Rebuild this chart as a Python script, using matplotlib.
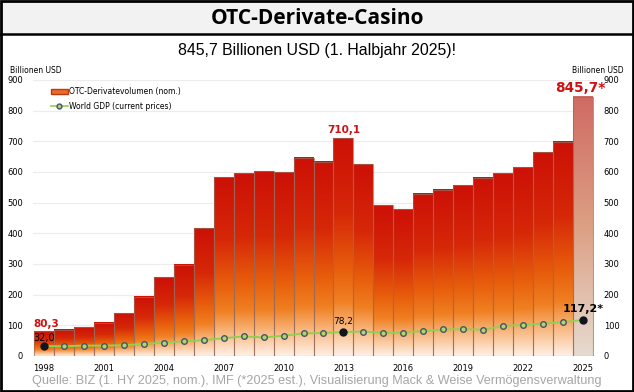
import numpy as np
import matplotlib
matplotlib.use("Agg")
from matplotlib import pyplot as plt
from matplotlib.colors import LinearSegmentedColormap
from matplotlib.patches import Rectangle
from matplotlib.lines import Line2D

# Daten
years = list(range(1998, 2026))
otc_volume = [80.3, 85, 94, 108, 139, 193, 257, 298, 416, 583,
              596, 602, 599, 646, 634, 710.1, 625, 491, 479, 529,
              542, 556, 581, 596, 615, 664, 698, 845.7]
world_gdp = [32.0, 31.5, 33.8, 33.6, 34.9, 38.9, 43.8, 47.5, 51.5, 58.0,
             63.6, 60.3, 66.0, 73.5, 75.1, 78.2, 79.6, 75.2, 76.4, 81.3,
             86.4, 87.7, 85.2, 97.5, 101.2, 105.7, 110.1, 117.2]
tick_years = [1998, 2001, 2004, 2007, 2010, 2013, 2016, 2019, 2022, 2025]
y_ticks = [0, 100, 200, 300, 400, 500, 600, 700, 800, 900]

title = "OTC-Derivate-Casino"
subtitle = "845,7 Billionen USD (1. Halbjahr 2025)!"
source = "Quelle: BIZ (1. HY 2025, nom.), IMF (*2025 est.), Visualisierung Mack & Weise Vermögensverwaltung"

cmap_bar = LinearSegmentedColormap.from_list(
    "otc", [(0.0, "#cc1006"), (0.35, "#d62808"), (0.6, "#e85e0c"),
            (0.75, "#f08022"), (0.87, "#f8b880"), (1.0, "#fff0e6")])
cmap_last = LinearSegmentedColormap.from_list(
    "otc_est", [(0.0, "#d06a64"), (0.5, "#dca084"), (1.0, "#e6dbd0")])

fig = plt.figure(figsize=(6.34, 3.92), dpi=100)

# Rahmen + Titelbalken
fig.patches.append(Rectangle((0, 0.913), 1, 0.087, transform=fig.transFigure,
                             facecolor="#f2f2f2", edgecolor="none", zorder=0))
fig.add_artist(Line2D([0, 1], [0.913, 0.913], color="black", lw=1.8))
fig.patches.append(Rectangle((0.002, 0.003), 0.996, 0.994, transform=fig.transFigure,
                             fill=False, edgecolor="black", lw=2.0, zorder=5))

fig.text(0.5, 0.954, title, ha="center", va="center", fontsize=15,
         fontweight="bold", family="Open Sans")
fig.text(0.5, 0.872, subtitle, ha="center", va="center", fontsize=11.4,
         family=["Liberation Sans Narrow", "Liberation Sans"])
fig.text(0.5, 0.027, source, ha="center", va="center", fontsize=9.1,
         color="#a6a6a6", family=["Liberation Sans Narrow", "Liberation Sans"])
fig.text(0.016, 0.819, "Billionen USD", fontsize=5.5, va="center", ha="left")
fig.text(0.984, 0.821, "Billionen USD", fontsize=5.5, va="center", ha="right")

ax = fig.add_axes([0.052, 0.092, 0.885, 0.704])

x = np.arange(len(years))
grad = np.linspace(0, 1, 256).reshape(-1, 1)
for i, h in enumerate(otc_volume):
    cm = cmap_last if i == len(years) - 1 else cmap_bar
    ax.imshow(grad, cmap=cm, extent=[x[i] - 0.5, x[i] + 0.5, 0, h],
              aspect="auto", zorder=2, interpolation="bicubic")
ax.bar(x, otc_volume, width=1.0, fill=False, edgecolor="#9a6a58",
       linewidth=0.8, alpha=0.7, zorder=3)

i13 = years.index(2013)
last = len(years) - 1

# World GDP
ax.plot(x, world_gdp, color="#92d050", lw=1.4, marker="o", markersize=4,
        markerfacecolor="#b5d36b", markeredgecolor="#44546a",
        markeredgewidth=1.0, zorder=4)
for i in [0, i13, last]:
    ax.plot(x[i], world_gdp[i], "o", color="#10151e", markersize=5, zorder=5)

# Beschriftungen
ax.annotate("80,3", (x[0], otc_volume[0]), xytext=(2, 2), textcoords="offset points",
            ha="center", va="bottom", color="#d01010", fontweight="bold", fontsize=7.5)
ax.annotate("32,0", (x[0], world_gdp[0]), xytext=(0, 2), textcoords="offset points",
            ha="center", va="bottom", color="black", fontsize=7)
ax.annotate("710,1", (x[i13], otc_volume[i13]), xytext=(0, 2), textcoords="offset points",
            ha="center", va="bottom", color="#d01010", fontweight="bold", fontsize=7.5)
ax.annotate("78,2", (x[i13], world_gdp[i13]), xytext=(0, 4), textcoords="offset points",
            ha="center", va="bottom", color="black", fontsize=6.5)
ax.annotate("845,7*", (x[last], otc_volume[last]), xytext=(-2, 1), textcoords="offset points",
            ha="center", va="bottom", color="#d01010", fontweight="bold", fontsize=9.8)
ax.annotate("117,2*", (x[last], world_gdp[last]), xytext=(0, 4), textcoords="offset points",
            ha="center", va="bottom", color="black", fontweight="bold", fontsize=8)

# Legende
leg_handles = [Rectangle((0, 0), 1, 1, facecolor="#ea6a2a", edgecolor="#c03a10"),
               Line2D([0], [0], color="#92d050", lw=1.2, marker="o", markersize=3.5,
                      markerfacecolor="#b5d36b", markeredgecolor="#44546a")]
ax.legend(leg_handles, ["OTC-Derivatevolumen (nom.)", "World GDP (current prices)"],
          loc="upper left", bbox_to_anchor=(0.02, 1.0), frameon=False, fontsize=5.5,
          handlelength=2.2, handleheight=0.6, handletextpad=0.2, labelspacing=0.8)

ax.set_xlim(-0.55, len(years) - 0.45)
ax.set_ylim(0, 900)
ax.set_yticks(y_ticks)
ax.set_xticks([years.index(y) for y in tick_years])
ax.set_xticklabels([str(y) for y in tick_years])
ax.tick_params(axis="both", length=0, labelsize=6)
ax.tick_params(axis="y", labelright=True, pad=7)
ax.tick_params(axis="x", pad=6)
ax.grid(axis="y", color="#ececec", lw=0.8, zorder=0)
ax.set_axisbelow(True)
for s in ax.spines.values():
    s.set_visible(False)

fig.savefig("out.png", dpi=100)
